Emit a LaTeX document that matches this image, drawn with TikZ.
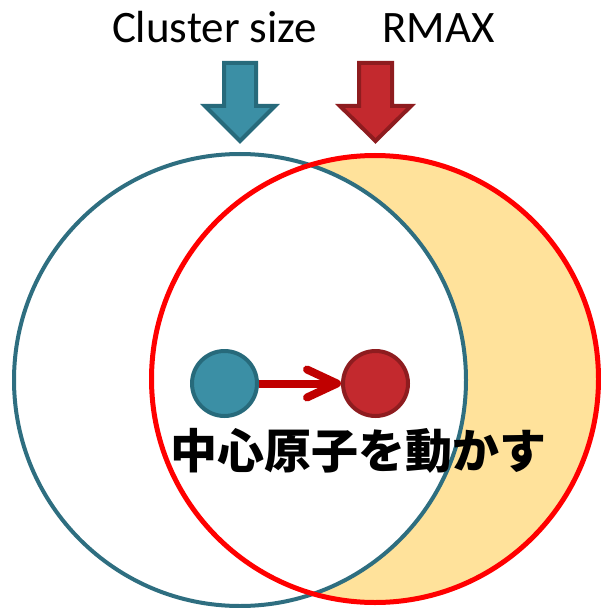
\documentclass[tikz,border=0pt]{standalone}
\usepackage{fontspec}
\setmainfont{Carlito}
\newfontfamily\jpfont{Noto Sans CJK JP}
\definecolor{tealfill}{HTML}{3B8FA5}
\definecolor{tealline}{HTML}{276A7B}
\definecolor{bigteal}{HTML}{2E6E80}
\definecolor{redfill}{HTML}{C3292E}
\definecolor{redline}{HTML}{8E1C1F}
\definecolor{movered}{HTML}{C00000}
\definecolor{crescent}{HTML}{FFE29B}
\definecolor{rmaxred}{HTML}{FF0000}
\begin{document}
\begin{tikzpicture}[x=1bp,y=-1bp,
  label/.style={font=\fontsize{45bp}{54bp}\selectfont, inner sep=0pt, anchor=base},
  atom/.style={circle, line width=4bp, minimum size=65bp, inner sep=0pt},
  blockarrow/.style={line width=4bp, line join=miter},
  jptext/.style={font=\jpfont\bfseries\fontsize{47bp}{56bp}\selectfont, inner sep=0pt}]
\useasboundingbox (0,0) rectangle (601,608);
% crescent: inside RMAX circle, outside cluster circle
\fill[crescent] (375,379) circle[radius=223.5];
\begin{scope}
  \clip (375,379) circle[radius=223.5];
  \fill[white] (240,380) circle[radius=226];
\end{scope}
\draw[bigteal, line width=4bp] (240,380) circle[radius=226];
\draw[rmaxred, line width=5bp] (375,379) circle[radius=223.5];
% block arrows
\draw[blockarrow, fill=tealfill, draw=tealline]
  (224,63) -- (256,63) -- (256,106) -- (275,106) -- (240,141) -- (205,106) -- (224,106) -- cycle;
\draw[blockarrow, fill=redfill, draw=redline]
  (359,63) -- (392,63) -- (392,106) -- (411,106) -- (375.5,141) -- (340,106) -- (359,106) -- cycle;
% labels
\node[label] (cs) at (214.5,43) {Cluster size};
\node[label] (rm) at (438.5,43) {RMAX};
% atoms
\node[atom, fill=tealfill, draw=tealline] (b) at (224.5,383.5) {};
\node[atom, fill=redfill, draw=redline] (r) at (375.5,383.5) {};
\coordinate (tip) at ([xshift=-4bp]r.west);
\draw[movered, line width=8bp] (b.east) -- (tip);
\draw[movered, line width=8bp, line cap=round, line join=round]
  ([xshift=-30bp,yshift=14bp]tip) -- (tip) -- ([xshift=-30bp,yshift=-14bp]tip);
\node[jptext] (t) at (358,451) {中心原子を動かす};
\end{tikzpicture}
\end{document}
